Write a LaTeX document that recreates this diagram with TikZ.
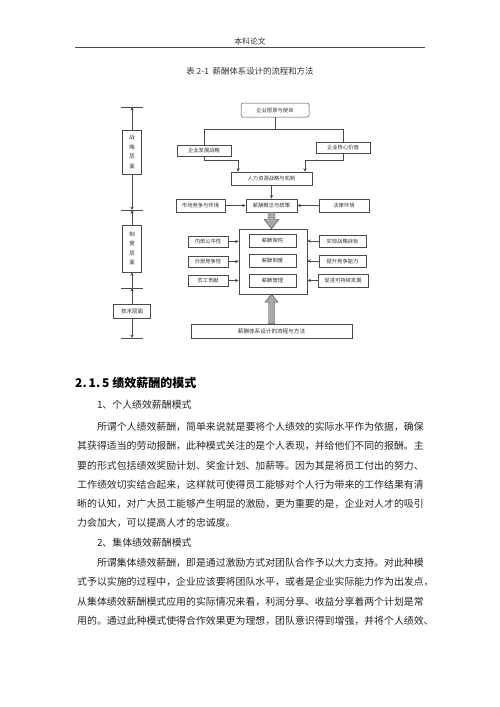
\documentclass[tikz,border=0pt]{standalone}
\usepackage{fontspec}
\usetikzlibrary{arrows.meta,calc}
\newfontfamily\cjk{Noto Sans CJK SC}
\XeTeXlinebreaklocale "zh"
\XeTeXlinebreakskip=0pt plus 2pt minus 0.6pt
\definecolor{linec}{HTML}{4A4A4A}
\definecolor{textc}{HTML}{333333}
\definecolor{fatc}{HTML}{A8A8A8}
\begin{document}
\begin{tikzpicture}[x=1pt,y=-1pt,
  bx/.style={draw=linec, line width=0.5pt, fill=white, inner sep=0pt, text=textc,
    font=\cjk\fontsize{5.3}{6}\selectfont},
  vbx/.style={bx, align=center, font=\cjk\fontsize{5.5}{9.5}\selectfont},
  arr/.style={draw=linec, line width=0.5pt, -{Stealth[length=3.6pt,width=3.2pt]}},
  ln/.style={draw=linec, line width=0.5pt},
  fat/.style={draw=linec, line width=0.45pt, fill=fatc},
  body/.style={anchor=west, inner sep=0pt, text=black!85, font=\cjk\fontsize{9.9}{12}\selectfont},
]
\useasboundingbox[fill=white] (0,0) rectangle (500,707);

% header
\node[inner sep=0pt, text=textc, font=\cjk\fontsize{7.8}{9}\selectfont] (hdr) at (250,42) {本科论文};
\draw[draw=linec, line width=0.9pt] (75,47.5) -- (425,47.5);
\node[inner sep=0pt, text=textc, font=\cjk\fontsize{8.4}{10}\selectfont] (cap) at (250,71) {表 2-1\ \ 薪酬体系设计的流程和方法};

% ---------- diagram: right part ----------
\node[bx, rounded corners=1.5pt, minimum width=68pt, minimum height=14pt] (vis) at (275,110) {企业愿景与使命};
\node[bx, minimum width=54pt, minimum height=11pt] (dev) at (204,150.5) {企业发展战略};
\node[bx, minimum width=54pt, minimum height=11pt] (core) at (343,147.5) {企业核心价值};
\node[bx, minimum width=81pt, minimum height=13pt] (hr) at (271.5,178.5) {人力资源战略与机制};
\node[bx, minimum width=51pt, minimum height=13pt] (concept) at (271.5,205.5) {薪酬概念与政策};
\node[bx, minimum width=49pt, minimum height=13pt] (market) at (200.5,205.5) {市场竞争与环境};
\node[bx, minimum width=50pt, minimum height=13pt] (law) at (344,205.5) {法律环境};

\node[bx, minimum width=68pt, minimum height=65pt] (big) at (273,261.5) {};
\node[bx, minimum width=47pt, minimum height=13pt] (in1) at (272.5,240.5) {薪酬架构};
\node[bx, minimum width=47pt, minimum height=13pt] (in2) at (272.5,260.5) {薪酬制度};
\node[bx, minimum width=47pt, minimum height=13pt] (in3) at (272.5,280.5) {薪酬管理};

\node[bx, minimum width=40pt, minimum height=11.5pt] (l1) at (208,241.5) {内部公平性};
\node[bx, minimum width=40pt, minimum height=11.5pt] (l2) at (208,261.5) {外部竞争性};
\node[bx, minimum width=40pt, minimum height=11.5pt] (l3) at (208,280.5) {员工贡献};
\node[bx, minimum width=47pt, minimum height=12pt] (r1) at (342.5,241) {实现战略目标};
\node[bx, minimum width=47pt, minimum height=12pt] (r2) at (342.5,261) {提升竞争能力};
\node[bx, minimum width=50pt, minimum height=12.5pt] (r3) at (343,280.5) {促进可持续发展};

\node[bx, minimum width=161pt, minimum height=14pt, font=\cjk\fontsize{5.6}{6}\selectfont] (base) at (271.5,331) {薪酬体系设计的流程与方法};

% connectors
\coordinate (jl) at (204,129.5);
\coordinate (jr) at (343,129.5);
\draw[ln] (vis.south) -- (vis.south |- jl);
\draw[ln] (dev.north) -- (jl) -- (jr) -- (core.north);
\coordinate (a1) at (238,160);
\coordinate (a2) at (305,160);
\draw[arr] (dev.south) |- (a1) -- (a1 |- hr.north);
\draw[arr] (core.south) |- (a2) -- (a2 |- hr.north);
\draw[arr] (hr.south) -- (concept.north);
\draw[arr] (market.east) -- (concept.west);
\draw[arr] (law.west) -- (concept.east);
\draw[arr] (l1.east) -- (big.west |- l1.east);
\draw[arr] (l2.east) -- (big.west |- l2.east);
\draw[arr] (l3.east) -- (big.west |- l3.east);
\draw[arr] (r1.west) -- (big.east |- r1.west);
\draw[arr] (r2.west) -- (big.east |- r2.west);
\draw[arr] (r3.west) -- (big.east |- r3.west);

% fat arrows
\coordinate (t1) at (concept.south |- big.north);
\draw[fat] ([xshift=-3.5pt]concept.south) -- ++(0,7) -- ++(-4,0) -- (t1)
  -- ($(t1)+(7.5,-9.5)$) -- ++(-4,0) -- ([xshift=3.5pt]concept.south) -- cycle;
\coordinate (t2) at (base.north |- big.south);
\draw[fat] ([xshift=-3pt]base.north) -- ($(t2)+(-3,8)$) -- ($(t2)+(-6.5,8)$) -- (t2)
  -- ($(t2)+(6.5,8)$) -- ($(t2)+(3,8)$) -- ([xshift=3pt]base.north) -- cycle;

% ---------- diagram: left column ----------
\coordinate (b1) at (132,107);
\coordinate (b2) at (132,210);
\coordinate (b3) at (132,288);
\coordinate (b4) at (132,338);
\foreach \b in {b1,b2,b3,b4} \draw[ln] ([xshift=-11pt]\b) -- ([xshift=11pt]\b);
\node[vbx, minimum width=19pt, minimum height=44pt] (s1) at (132,152) {战\\略\\层\\面};
\node[vbx, minimum width=19pt, minimum height=47pt] (s2) at (132,248.5) {制\\度\\层\\面};
\node[bx, minimum width=37pt, minimum height=14pt, font=\cjk\fontsize{5.5}{6}\selectfont] (s3) at (132,311) {技术层面};
\draw[arr] (s1.north) -- (b1);
\draw[arr] (s1.south) -- (b2);
\draw[arr] (s2.north) -- (b2);
\draw[arr] (b3) -- (s2.south);
\draw[arr] (s3.north) -- (b3);
\draw[arr] (s3.south) -- (b4);

% ---------- body text ----------
\node[anchor=west, inner sep=0pt, text=black, font=\cjk\bfseries\fontsize{12}{14}\selectfont] (h215) at (75,383) {2.\,1.\,5 绩效薪酬的模式};
\node[body] (s11) at (96.8,405) {1、个人绩效薪酬模式};
\node[body] (p1a) at (96.8,427) {\hbox to 326.7pt{所谓个人绩效薪酬，简单来说就是要将个人绩效的实际水平作为依据，确保}};
\node[body] (p1b) at (77,446.2) {\hbox to 346.5pt{其获得适当的劳动报酬，此种模式关注的是个人表现，并给他们不同的报酬。主}};
\node[body] (p1c) at (77,465.4) {\hbox to 346.5pt{要的形式包括绩效奖励计划、奖金计划、加薪等。因为其是将员工付出的努力、}};
\node[body] (p1d) at (77,484.6) {\hbox to 346.5pt{工作绩效切实结合起来，这样就可使得员工能够对个人行为带来的工作结果有清}};
\node[body] (p1e) at (77,503.8) {\hbox to 346.5pt{晰的认知，对广大员工能够产生明显的激励，更为重要的是，企业对人才的吸引}};
\node[body] (p1f) at (77,523) {力会加大，可以提高人才的忠诚度。};
\node[body] (s12) at (96.8,543) {2、集体绩效薪酬模式};
\node[body] (p2a) at (96.8,562.5) {\hbox to 326.7pt{所谓集体绩效薪酬，即是通过激励方式对团队合作予以大力支持。对此种模}};
\node[body] (p2b) at (77,582) {\hbox to 346.5pt{式予以实施的过程中，企业应该要将团队水平，或者是企业实际能力作为出发点，}};
\node[body] (p2c) at (77,601.7) {\hbox to 346.5pt{从集体绩效薪酬模式应用的实际情况来看，利润分享、收益分享着两个计划是常}};
\node[body] (p2d) at (77,621.3) {\hbox to 346.5pt{用的。通过此种模式使得合作效果更为理想，团队意识得到增强，并将个人绩效、}};
\end{tikzpicture}
\end{document}
